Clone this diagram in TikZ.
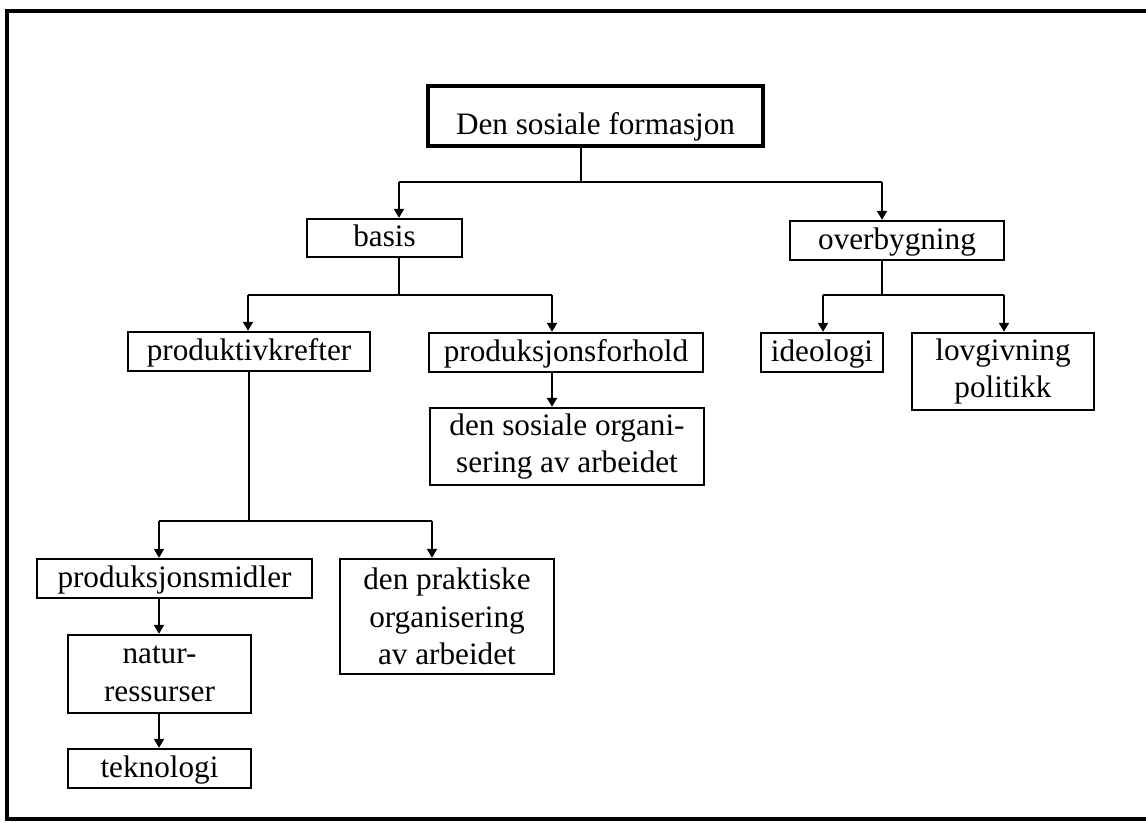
\documentclass[tikz,border=0pt]{standalone}
\usepackage{fontspec}
\setmainfont{Liberation Serif}
\usetikzlibrary{arrows.meta}
\begin{document}
\begin{tikzpicture}[x=0.5pt,y=-0.5pt,
  box/.style={draw, line width=1.2pt, rectangle, inner sep=0pt,
    font=\fontsize{15.6pt}{18.75pt}\selectfont},
  one/.style={text height=12pt, text depth=3pt},
  multi/.style={align=center},
  wire/.style={line width=1pt},
  arr/.style={wire, -{Triangle[length=4.5pt,width=5pt]}},
  framestyle/.style={line width=2pt, line join=miter}]
\useasboundingbox (0,0) rectangle (1146,823);
% frame
\draw[framestyle] (1146,11) -- (7,11) -- (7,819) -- (1146,819);

% nodes
\node[box, line width=2pt, text height=22pt, text depth=3pt,
      minimum width=167.5pt, minimum height=30pt] (root) at (595.5,116) {Den sosiale formasjon};
\node[box, one, minimum width=77.5pt, minimum height=19pt] (basis) at (384.5,238) {basis};
\node[box, one, minimum width=107pt, minimum height=19.5pt] (over) at (897,240.5) {overbygning};
\node[box, one, minimum width=121pt, minimum height=19.5pt] (pkraft) at (249,351.5) {produktivkrefter};
\node[box, one, minimum width=137pt, minimum height=19.5pt] (pforh) at (566,352.5) {produksjonsforhold};
\node[box, one, minimum width=61pt, minimum height=19.5pt] (ideo) at (822,352.5) {ideologi};
\node[box, multi, minimum width=91pt, minimum height=38.5pt] (lov) at (1003,371.5) {lovgivning\\politikk};
\node[box, multi, minimum width=137pt, minimum height=38.5pt] (sosorg) at (567,446.5) {den sosiale organi-\\sering av arbeidet};
\node[box, one, minimum width=137.5pt, minimum height=19.5pt] (pmid) at (174.5,578.5) {produksjonsmidler};
\node[box, multi, minimum width=107pt, minimum height=57.5pt] (prakt) at (447,616.5) {den praktiske\\organisering\\av arbeidet};
\node[box, multi, minimum width=91.5pt, minimum height=39pt] (natur) at (159.5,674) {natur-\\ressurser};
\node[box, one, minimum width=91.5pt, minimum height=19.5pt] (tek) at (159.5,768.5) {teknologi};

% junction coordinates
\coordinate (j1) at (581,182);
\coordinate (j1l) at (399,182);
\coordinate (j1r) at (882,182);
\coordinate (j2) at (399,295);
\coordinate (j2l) at (248,295);
\coordinate (j2r) at (552,295);
\coordinate (j3) at (882,295);
\coordinate (j3l) at (823,295);
\coordinate (j3r) at (1004,295);
\coordinate (j4) at (249,521);
\coordinate (j4l) at (159,521);
\coordinate (j4r) at (432,521);
\coordinate (c5) at (552,0);
\coordinate (c6) at (159,0);

% connectors
\draw[wire] (root.south -| j1) -- (j1);
\draw[wire] (j1l) -- (j1r);
\draw[arr] (j1l) -- (j1l |- basis.north);
\draw[arr] (j1r) -- (j1r |- over.north);

\draw[wire] (basis.south -| j2) -- (j2);
\draw[wire] (j2l) -- (j2r);
\draw[arr] (j2l) -- (j2l |- pkraft.north);
\draw[arr] (j2r) -- (j2r |- pforh.north);

\draw[wire] (over.south -| j3) -- (j3);
\draw[wire] (j3l) -- (j3r);
\draw[arr] (j3l) -- (j3l |- ideo.north);
\draw[arr] (j3r) -- (j3r |- lov.north);

\draw[arr] (pforh.south -| c5) -- (sosorg.north -| c5);

\draw[wire] (pkraft.south -| j4) -- (j4);
\draw[wire] (j4l) -- (j4r);
\draw[arr] (j4l) -- (j4l |- pmid.north);
\draw[arr] (j4r) -- (j4r |- prakt.north);

\draw[arr] (pmid.south -| c6) -- (natur.north -| c6);
\draw[arr] (natur.south -| c6) -- (tek.north -| c6);
\end{tikzpicture}
\end{document}
